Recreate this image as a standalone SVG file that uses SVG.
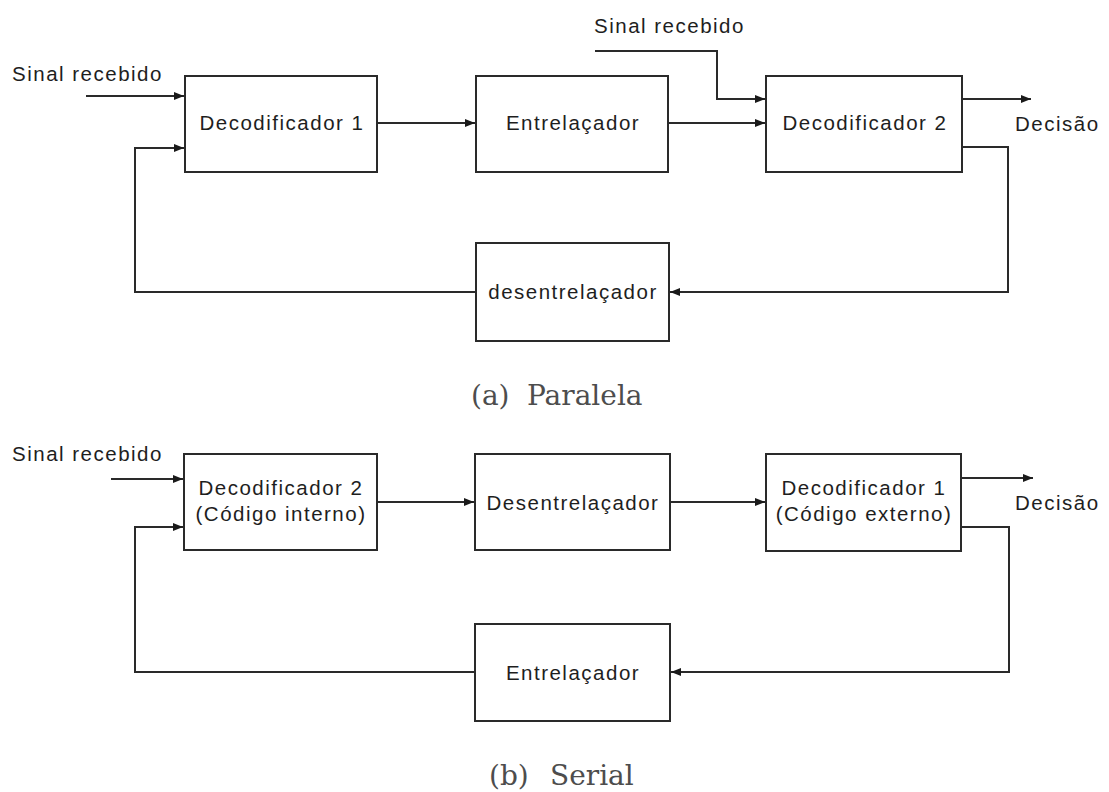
<svg xmlns="http://www.w3.org/2000/svg" width="1109" height="792" viewBox="0 0 1109 792">
  <defs>
    <marker id="arrow" viewBox="0 0 10 8" refX="10" refY="4" markerWidth="10" markerHeight="8" markerUnits="userSpaceOnUse" orient="auto">
      <path d="M0,0 L10,4 L0,8 z" fill="#1a1a1a"/>
    </marker>
    <style>
      .box { fill: #ffffff; stroke: #2a2a2a; stroke-width: 2; }
      .wire { fill: none; stroke: #2a2a2a; stroke-width: 2; }
      .arr { marker-end: url(#arrow); }
      .lbl { font-family: "Liberation Sans", Arial, sans-serif; font-size: 20.5px; letter-spacing: 1.5px; fill: #1e1e1e; }
      .mid { text-anchor: middle; }
      .cap { font-family: "DejaVu Serif", "Liberation Serif", serif; font-size: 28px; fill: #4d4d4d; }
    </style>
  </defs>

  <rect width="1109" height="792" fill="#ffffff"/>

  <!-- (a) parallel decoder -->
  <g id="connectors-a">
    <path class="wire arr" d="M86,96 H184"/>
    <path class="wire arr" d="M476,292 H135 V148 H184"/>
    <path class="wire arr" d="M377,123 H475"/>
    <path class="wire arr" d="M668,123 H765"/>
    <path class="wire arr" d="M595,51 H717 V99 H765"/>
    <path class="wire arr" d="M962,99 H1031"/>
    <path class="wire arr" d="M962,147 H1008 V292 H670"/>
  </g>

  <g id="a-dec1">
    <rect class="box" x="185" y="76" width="192" height="96"/>
    <text class="lbl mid" x="282" y="130">Decodificador 1</text>
  </g>
  <g id="a-interleaver">
    <rect class="box" x="476" y="76" width="192" height="96"/>
    <text class="lbl mid" x="573" y="130">Entrelaçador</text>
  </g>
  <g id="a-dec2">
    <rect class="box" x="766" y="76" width="196" height="96"/>
    <text class="lbl mid" x="865" y="130">Decodificador 2</text>
  </g>
  <g id="a-deinterleaver">
    <rect class="box" x="476" y="243" width="193" height="98"/>
    <text class="lbl mid" x="573" y="299">desentrelaçador</text>
  </g>
  <g id="a-labels">
    <text class="lbl" x="12" y="81">Sinal recebido</text>
    <text class="lbl" x="594" y="33">Sinal recebido</text>
    <text class="lbl" x="1015" y="131">Decisão</text>
    <text class="cap" x="471" y="405">(a)<tspan x="527">Paralela</tspan></text>
  </g>

  <!-- (b) serial decoder -->
  <g id="connectors-b">
    <path class="wire arr" d="M111,479 H183"/>
    <path class="wire arr" d="M475,672 H135 V527 H183"/>
    <path class="wire arr" d="M377,502 H474"/>
    <path class="wire arr" d="M670,502 H765"/>
    <path class="wire arr" d="M961,478 H1033"/>
    <path class="wire arr" d="M961,527 H1009 V672 H671"/>
  </g>

  <g id="b-dec2">
    <rect class="box" x="184" y="454" width="193" height="96"/>
    <text class="lbl mid" x="281" y="495">Decodificador 2</text>
    <text class="lbl mid" x="281" y="521">(Código interno)</text>
  </g>
  <g id="b-deinterleaver">
    <rect class="box" x="475" y="454" width="195" height="96"/>
    <text class="lbl mid" x="573" y="510">Desentrelaçador</text>
  </g>
  <g id="b-dec1">
    <rect class="box" x="766" y="454" width="195" height="97"/>
    <text class="lbl mid" x="864" y="495">Decodificador 1</text>
    <text class="lbl mid" x="864" y="521">(Código externo)</text>
  </g>
  <g id="b-interleaver">
    <rect class="box" x="475" y="624" width="195" height="97"/>
    <text class="lbl mid" x="573" y="680">Entrelaçador</text>
  </g>
  <g id="b-labels">
    <text class="lbl" x="12" y="461">Sinal recebido</text>
    <text class="lbl" x="1015" y="510">Decisão</text>
    <text class="cap" x="489" y="785">(b)<tspan x="550">Serial</tspan></text>
  </g>
</svg>
